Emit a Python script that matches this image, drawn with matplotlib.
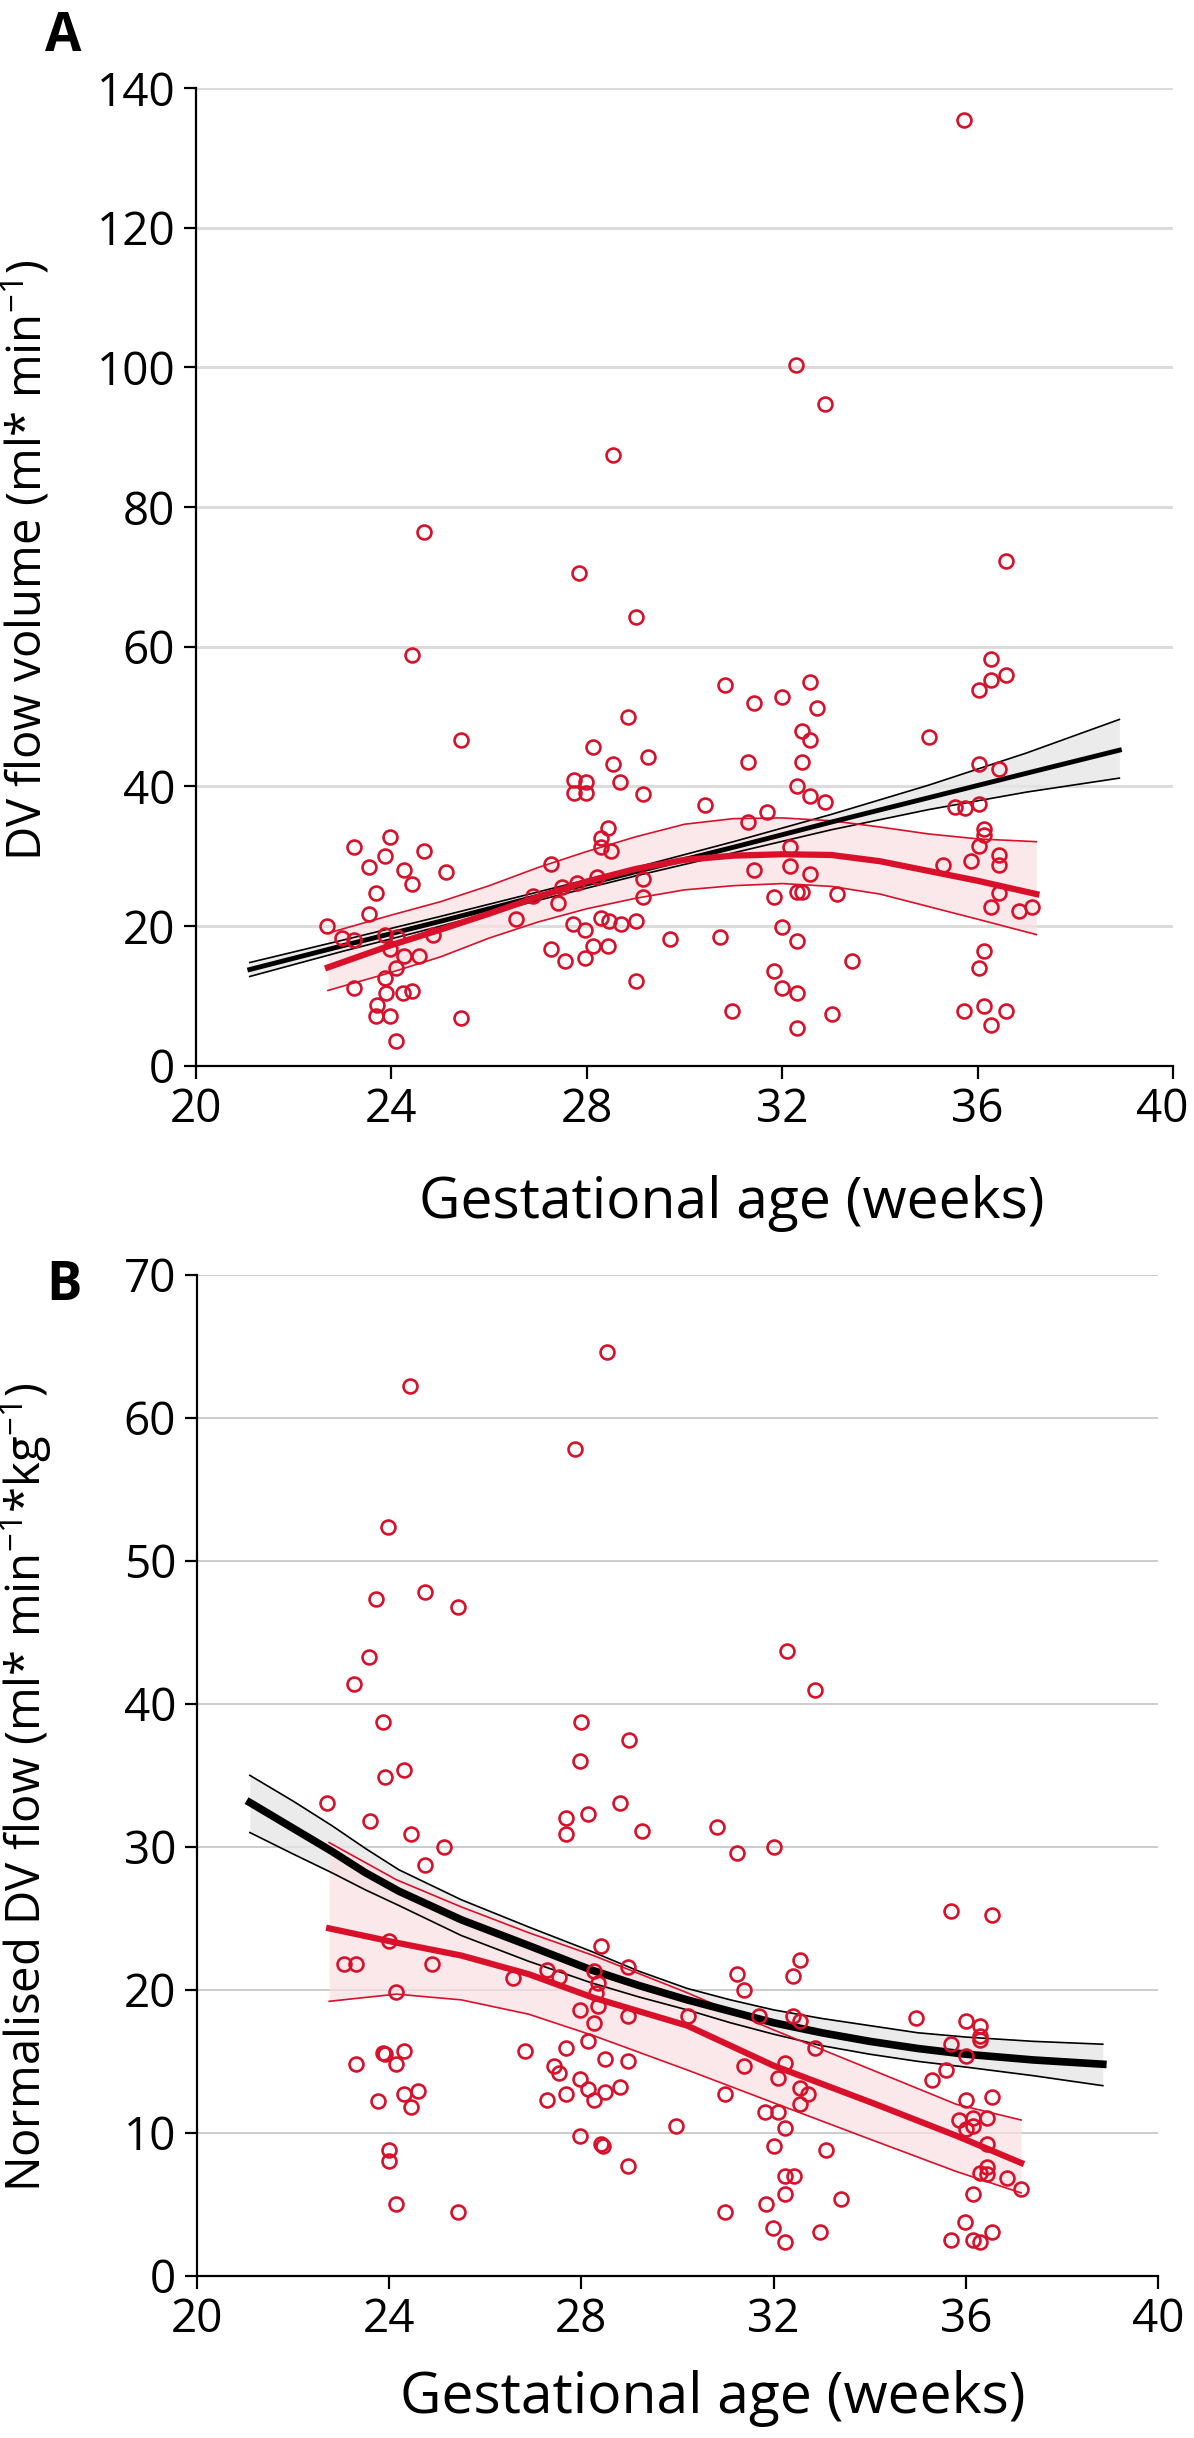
import numpy as np
import matplotlib.pyplot as plt
from matplotlib.transforms import ScaledTranslation

plt.rcParams['font.family'] = ['Open Sans', 'DejaVu Sans']
plt.rcParams['mathtext.fontset'] = 'custom'
plt.rcParams['mathtext.rm'] = 'Open Sans'

# ---- panel A: DV flow volume ----
a_ga = [35.72, 32.29, 32.87, 28.54, 24.67, 27.84, 36.58,
        24.42, 25.43, 28.12, 27.73, 27.99, 27.73, 27.99, 28.44, 28.28, 28.28, 28.5,
        23.24, 23.96, 23.86, 23.54, 24.66, 24.25, 24.42, 25.12, 23.69, 23.54, 27.27,
        22.68, 22.98, 23.24, 23.86, 24.12, 23.96, 24.85, 24.25, 24.57, 24.1, 23.86,
        23.24, 23.88, 24.23, 24.42, 23.71, 23.69, 23.96, 24.1, 25.43,
        26.55, 27.41, 27.71, 27.97, 27.27, 27.56, 27.97, 28.12, 28.44, 28.28, 28.46,
        26.9, 27.5, 27.8, 28.2,
        29.0, 30.83, 31.43, 31.99, 32.56, 32.71, 28.84, 32.4, 32.56, 28.53, 29.26,
        28.68, 29.15, 31.3, 32.4, 32.3, 32.56, 32.88, 30.42, 31.69, 31.3, 35.0,
        36.02, 36.43, 36.27, 36.27, 36.57, 36.02, 35.54, 35.73, 36.02, 36.12, 36.12,
        36.02, 35.86, 36.43, 36.43, 35.3, 36.43, 36.27, 36.84, 37.11,
        29.15, 29.15, 31.43, 32.15, 32.15, 32.56, 31.84, 32.3, 32.4, 33.12,
        28.7, 29.0, 29.71, 30.73, 32.0, 32.3, 33.43, 29.0, 31.84, 32.0, 32.3,
        30.98, 33.02, 32.3, 36.12, 36.02, 35.71, 36.12, 36.27, 36.57]
a_flow = [135.4, 100.4, 94.8, 87.5, 76.5, 70.5, 72.3,
          58.8, 46.7, 45.6, 40.9, 40.7, 39.0, 39.0, 34.0, 32.6, 31.4, 30.7,
          31.4, 32.8, 30.0, 28.5, 30.7, 28.1, 26.1, 27.8, 24.7, 21.8, 28.9,
          20.05, 18.3, 18.0, 18.8, 18.5, 16.8, 18.7, 15.8, 15.8, 14.0, 12.6,
          11.2, 10.4, 10.4, 10.7, 8.7, 7.1, 7.1, 3.6, 6.8,
          21.1, 23.3, 20.3, 19.4, 16.8, 15.0, 15.4, 17.1, 17.1, 21.2, 20.8,
          24.3, 25.6, 26.2, 27.0,
          64.2, 54.5, 52.0, 52.8, 54.9, 51.3, 49.9, 47.9, 46.7, 43.2, 44.2,
          40.7, 38.9, 43.5, 43.5, 40.0, 38.6, 37.8, 37.4, 36.4, 34.9, 47.1,
          43.2, 42.5, 58.2, 55.3, 56.0, 53.8, 37.1, 36.9, 37.5, 33.9, 33.1,
          31.5, 29.3, 30.2, 28.8, 28.8, 24.7, 22.8, 22.2, 22.7,
          26.7, 24.2, 28.1, 31.3, 28.6, 27.5, 24.2, 24.9, 24.9, 24.6,
          20.3, 20.7, 18.2, 18.5, 19.9, 17.9, 15.0, 12.2, 13.6, 11.1, 10.4,
          7.9, 7.5, 5.4, 16.5, 14.0, 7.9, 8.6, 5.8, 7.9]

# reference (black) fit, panel A
a_ref_x = [21.1, 23, 25, 27, 29, 31, 33, 35, 37, 38.9]
a_ref_mid = [13.8, 17.2, 20.7, 24.3, 27.8, 31.3, 34.9, 38.4, 41.9, 45.2]
a_ref_hi = [14.8, 18.0, 21.4, 24.9, 28.4, 32.1, 36.0, 40.2, 44.8, 49.6]
a_ref_lo = [12.8, 16.4, 20.0, 23.7, 27.2, 30.5, 33.8, 36.7, 39.2, 41.2]

# study (red) fit, panel A
a_fit_x = [22.7, 24, 25, 26, 27, 28, 29, 30, 31, 32, 33, 34, 35, 36, 37.2]
a_fit_mid = [14.1, 17.3, 19.5, 21.8, 24.2, 26.4, 28.2, 29.5, 30.1, 30.3, 30.2, 29.3, 27.9, 26.5, 24.6]
a_fit_hi = [19.0, 21.6, 23.5, 25.8, 28.4, 30.7, 32.8, 34.6, 35.4, 35.5, 35.1, 34.2, 33.2, 32.5, 32.1]
a_fit_lo = [10.8, 13.4, 15.6, 18.3, 20.6, 22.5, 24.0, 25.2, 25.8, 26.1, 25.7, 24.6, 22.8, 21.0, 18.8]

# ---- panel B: normalised DV flow ----
b_ga = [22.71, 28.54, 24.43, 27.86, 23.98, 23.73, 24.75, 25.43, 23.57, 23.27, 23.87,
        32.27, 32.87, 28.0, 29.0,
        23.91, 24.3, 23.59, 24.46, 25.15, 24.74, 27.98, 27.68, 27.68, 28.14,
        23.99, 23.05, 23.31, 24.89, 24.15, 26.58, 27.28, 27.54, 28.4, 28.27, 28.3,
        27.98, 28.27, 28.14, 27.68, 26.83, 27.43, 27.54, 27.98, 28.14, 28.27, 27.68,
        27.28, 27.98, 28.4,
        23.91, 24.3, 24.15, 23.88, 23.31, 24.3, 24.6, 24.46, 23.76, 24.0, 24.0, 24.15, 25.44,
        28.8, 29.27, 30.83, 31.23, 32.0, 35.69, 36.55, 28.96, 28.35, 28.35, 28.96,
        30.21, 31.24, 31.38, 31.69, 32.4, 32.55, 32.4, 32.55, 32.86, 31.38, 32.24,
        32.09, 32.55, 32.71, 32.55, 28.5, 28.96, 28.8, 28.5, 30.98, 29.96, 31.83,
        32.09, 32.24, 28.45, 28.96, 32.0, 33.1, 32.24, 32.42, 32.24, 31.85, 33.4,
        30.99, 31.99, 32.24, 32.96,
        34.97, 35.69, 35.59, 35.29, 35.85, 35.99, 35.69, 36.0,
        36.0, 36.3, 36.3, 36.3, 36.0, 36.55, 36.0, 36.15, 36.44, 36.15, 36.44,
        36.44, 36.3, 36.44, 36.86, 37.15, 36.15, 36.15, 36.3, 36.55]
b_flow = [33.1, 64.6, 62.2, 57.8, 52.4, 47.3, 47.8, 46.8, 43.3, 41.4, 38.7,
          43.7, 41.0, 38.7, 37.5,
          34.85, 35.4, 31.8, 30.9, 30.0, 28.7, 36.0, 32.0, 30.9, 32.3,
          23.4, 21.8, 21.8, 21.8, 19.85, 20.85, 21.4, 20.9, 23.1, 21.3, 19.8,
          18.6, 17.7, 16.4, 15.9, 15.7, 14.7, 14.2, 13.8, 13.1, 12.3, 12.7,
          12.3, 9.8, 9.2,
          15.5, 15.7, 14.85, 15.6, 14.8, 12.7, 12.9, 11.8, 12.2, 8.8, 8.0, 5.0, 4.5,
          33.06, 31.1, 31.4, 29.6, 30.0, 25.5, 25.2, 21.6, 20.5, 18.9, 18.2,
          18.2, 21.1, 20.0, 18.2, 21.0, 22.1, 18.2, 17.8, 15.9, 14.7, 14.9,
          13.85, 13.15, 12.75, 12.0, 15.2, 15.0, 13.2, 12.85, 12.7, 10.5, 11.45,
          11.45, 10.35, 9.1, 7.7, 9.1, 8.8, 6.97, 6.97, 5.73, 5.0, 5.4,
          4.47, 3.35, 2.35, 3.05,
          18.0, 16.2, 14.4, 13.7, 10.9, 3.75, 2.5, 10.25,
          17.8, 17.5, 16.8, 16.5, 15.4, 12.5, 12.3, 11.05, 11.05, 10.5, 9.2,
          7.6, 7.2, 7.1, 6.85, 6.1, 5.75, 2.5, 2.35, 3.05]

b_ref_x = [21.1, 22, 22.8, 23.5, 24.2, 25.5, 26.9, 28.2, 29.2, 30.2, 31.1, 32, 33, 34, 35, 36, 37.4, 38.85]
b_ref_mid = [33.1, 31.3, 29.7, 28.2, 26.9, 24.9, 23.1, 21.4, 20.3, 19.3, 18.5, 17.7, 17.0, 16.4, 15.9, 15.5, 15.1, 14.8]
b_ref_hi = [35.0, 33.2, 31.5, 29.9, 28.4, 26.3, 24.4, 22.7, 21.3, 20.1, 19.3, 18.6, 18.0, 17.5, 17.0, 16.7, 16.4, 16.2]
b_ref_lo = [31.0, 29.5, 28.2, 27.0, 25.9, 23.8, 22.0, 20.5, 19.5, 18.6, 17.7, 16.9, 16.1, 15.5, 15.0, 14.6, 14.0, 13.3]

b_fit_x = [22.75, 24.15, 25.5, 26.9, 28.25, 30.2, 32, 34.05, 35.8, 37.15]
b_fit_mid = [24.3, 23.3, 22.4, 21.1, 19.45, 17.5, 14.7, 12.1, 9.8, 7.9]
b_fit_hi = [30.3, 27.7, 25.8, 24.0, 22.4, 19.8, 17.2, 14.4, 12.0, 10.9]
b_fit_lo = [19.2, 19.7, 19.3, 18.3, 16.8, 14.4, 12.1, 9.5, 7.3, 5.8]

RED = '#d8102a'
TICK_FS = 33
YLAB_FS = 34
XLAB_FS = 41


def panel(ax, ga, flow, ref, fit, ymax, ystep, grid_c, grid_w, mid_w):
    rx, rmid, rhi, rlo = ref
    fx, fmid, fhi, flo = fit
    ax.fill_between(rx, rlo, rhi, color='#e6e6e6', alpha=0.8, lw=0, zorder=2)
    ax.fill_between(fx, flo, fhi, color='#f9dfe2', alpha=0.7, lw=0, zorder=2)
    ax.plot(rx, rhi, color='black', lw=1.2, zorder=3)
    ax.plot(rx, rlo, color='black', lw=1.2, zorder=3)
    ax.plot(fx, fhi, color=RED, lw=1.2, zorder=3)
    ax.plot(fx, flo, color=RED, lw=1.2, zorder=3)
    ax.plot(rx, rmid, color='black', lw=mid_w, zorder=4)
    ax.plot(fx, fmid, color=RED, lw=4.5, zorder=4)
    ax.plot(ga, flow, 'o', ms=10, mfc='none', mec=RED, mew=1.9, zorder=5)

    ax.set_xlim(20, 40)
    ax.set_ylim(0, ymax)
    ax.set_xticks(np.arange(20, 41, 4))
    ax.set_yticks(np.arange(0, ymax + 1, ystep))
    for v in np.arange(ystep, ymax + 1, ystep):
        ax.axhline(v, color=grid_c, lw=grid_w, zorder=1)
    for s in ['top', 'right']:
        ax.spines[s].set_visible(False)
    for s in ['left', 'bottom']:
        ax.spines[s].set_linewidth(1.6)
    ax.tick_params(labelsize=TICK_FS, length=9, width=1.6, pad=6)
    ax.set_xlabel('Gestational age (weeks)', fontsize=XLAB_FS)


fig = plt.figure(figsize=(11.94, 24.38), dpi=100)
ax1 = fig.add_axes([0.1642, 0.5628, 0.8183, 0.4011])
ax2 = fig.add_axes([0.1650, 0.0665, 0.8049, 0.4106])

panel(ax1, a_ga, a_flow, (a_ref_x, a_ref_mid, a_ref_hi, a_ref_lo),
      (a_fit_x, a_fit_mid, a_fit_hi, a_fit_lo), 140, 20, '#dcdcdc', 2.2, 3.5)
panel(ax2, b_ga, b_flow, (b_ref_x, b_ref_mid, b_ref_hi, b_ref_lo),
      (b_fit_x, b_fit_mid, b_fit_hi, b_fit_lo), 70, 10, '#c4c4c4', 1.2, 5.5)

ax1.set_ylabel(r'DV flow volume (ml* min$^{\mathregular{-1}}$)', fontsize=YLAB_FS)
ax1.yaxis.set_label_coords(-0.147, 0.517)
ax1.xaxis.set_label_coords(0.548, -0.112)
ax2.set_ylabel(r'Normalised DV flow (ml* min$^{\mathregular{-1}}$*kg$^{\mathregular{-1}}$)',
               fontsize=YLAB_FS)
ax2.yaxis.set_label_coords(-0.149, 0.4885)
ax2.xaxis.set_label_coords(0.537, -0.094)

# last x tick label of panel A sits at the right edge; nudge it inward
lab40 = ax1.get_xticklabels()[-1]
lab40.set_transform(lab40.get_transform() + ScaledTranslation(-8 / 72, 0, fig.dpi_scale_trans))

fig.text(0.038, 0.996, 'A', fontsize=38, fontweight='bold', va='top')
fig.text(0.039, 0.4835, 'B', fontsize=38, fontweight='bold', va='top')

fig.savefig('out.png', dpi=100)
